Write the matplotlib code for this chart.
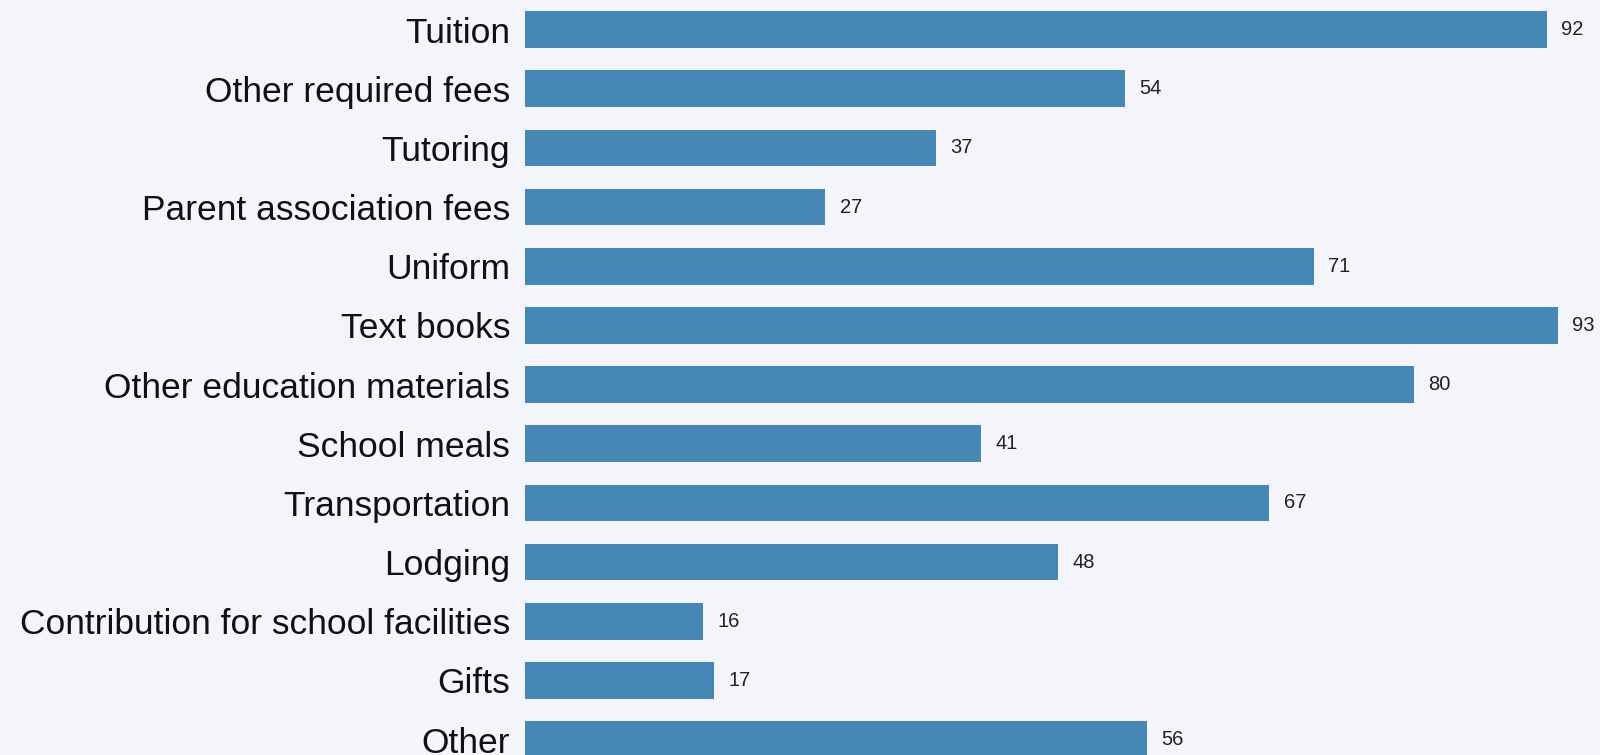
import matplotlib
matplotlib.use('Agg')
import matplotlib.pyplot as plt
from matplotlib import font_manager

# 数据
categories = ['Tuition', 'Other required fees', 'Tutoring', 'Parent association fees',
              'Uniform', 'Text books', 'Other education materials', 'School meals',
              'Transportation', 'Lodging', 'Contribution for school facilities',
              'Gifts', 'Other']
values = [92, 54, 37, 27, 71, 93, 80, 41, 67, 48, 16, 17, 56]

bg = '#F3F5FA'
bar_color = '#4587B5'

plt.rcParams['font.family'] = ['Liberation Sans', 'DejaVu Sans']

# 标签字体：参考图的文字偏窄偏高，优先用窄体
try:
    font_manager.findfont('Liberation Sans Narrow', fallback_to_default=False)
    label_family = ['Liberation Sans Narrow', 'Liberation Sans', 'DejaVu Sans']
    label_size = 31
except Exception:
    label_family = ['Liberation Sans', 'DejaVu Sans']
    label_size = 25.5

fig = plt.figure(figsize=(16, 7.55), dpi=100, facecolor=bg)
ax = fig.add_axes([0.3284, 0.0, 0.6716, 1.0], facecolor=bg)

pos = list(range(len(categories)))
ax.barh(pos, values, height=0.62, color=bar_color)

for y, v in zip(pos, values):
    ax.text(v + 1.3, y, str(v), va='center', ha='left', fontsize=14.5, color='#222222')

ax.set_yticks(pos)
ax.set_yticklabels(categories, fontsize=label_size, color='#111111', family=label_family)
ax.tick_params(axis='y', length=0, pad=11)
ax.set_xticks([])
ax.set_xlim(0, 96.8)
ax.set_ylim(12.26, -0.5)
for s in ax.spines.values():
    s.set_visible(False)

fig.savefig('out.png', dpi=100, facecolor=bg)
